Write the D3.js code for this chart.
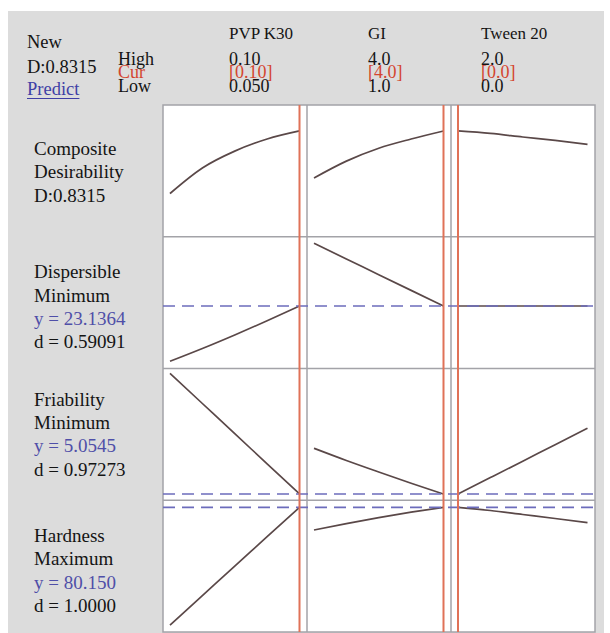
<!DOCTYPE html>
<html>
<head>
<meta charset="utf-8">
<script src="https://cdn.jsdelivr.net/npm/d3@7"></script>
<style>
  body { margin: 0; background: #fff; }
  svg { display: block; }
</style>
</head>
<body>
<svg id="chart" width="610" height="633"></svg>
<script>
// ---- Factors (columns) ----
const factors = ["PVP K30", "GI", "Tween 20"];
const factorLow = [0.05, 1.0, 0.0];
const factorHigh = [0.10, 4.0, 2.0];
const factorCur = [0.10, 4.0, 0.0];
const highLabels = ["0.10", "4.0", "2.0"];
const curLabels = ["[0.10]", "[4.0]", "[0.0]"];
const lowLabels = ["0.050", "1.0", "0.0"];

// ---- Responses (rows) ----
const responseNames = [["Composite", "Desirability"], ["Dispersible", "Minimum"], ["Friability", "Minimum"], ["Hardness", "Maximum"]];
const predicted = [0.8315, 23.1364, 5.0545, 80.150];
const predictedLabels = ["D:0.8315", "y = 23.1364", "y = 5.0545", "y = 80.150"];
const desirabilityLabels = [null, "d = 0.59091", "d = 0.97273", "d = 1.0000"];
const responseDomains = [[0.43, 0.93], [14, 33.26], [4.8, 10.16], [40, 82.42]];

// ---- Factor settings at which each trace is evaluated ----
const pvpGrid = [0.05, 0.0625, 0.075, 0.0875, 0.10];
const giGrid = [1.0, 1.75, 2.5, 3.25, 4.0];
const tweenGrid = [0.0, 0.5, 1.0, 1.5, 2.0];

// ---- Response traces ----
const compositeVsPVP = [0.594, 0.691, 0.755, 0.801, 0.8315];
const compositeVsGI = [0.653, 0.717, 0.766, 0.801, 0.8315];
const compositeVsTween = [0.8315, 0.822, 0.8086, 0.7957, 0.7809];

const dispersibleVsPVP = [15.05, 16.92, 18.90, 20.97, 23.1364];
const dispersibleVsGI = [32.30, 30.01, 27.71, 25.42, 23.1364];
const dispersibleVsTween = [23.1364, 23.1364, 23.1364, 23.1364, 23.1364];

const friabilityVsPVP = [9.965, 8.736, 7.507, 6.283, 5.0545];
const friabilityVsGI = [6.913, 6.417, 5.949, 5.494, 5.0545];
const friabilityVsTween = [5.0545, 5.721, 6.389, 7.060, 7.727];

const hardnessVsPVP = [42.25, 51.72, 61.19, 70.68, 80.15];
const hardnessVsGI = [72.84, 74.90, 76.83, 78.57, 80.15];
const hardnessVsTween = [80.15, 79.12, 77.83, 76.54, 75.19];

const factorGrids = [pvpGrid, giGrid, tweenGrid];
const traces = [
  [compositeVsPVP, compositeVsGI, compositeVsTween],
  [dispersibleVsPVP, dispersibleVsGI, dispersibleVsTween],
  [friabilityVsPVP, friabilityVsGI, friabilityVsTween],
  [hardnessVsPVP, hardnessVsGI, hardnessVsTween]
];

// ---- Layout ----
const svg = d3.select("#chart");
const FONT = "'Liberation Serif', 'Times New Roman', serif";
const gridLeft = 163, gridRight = 595, gridTop = 105, gridBottom = 632;
const colW = (gridRight - gridLeft) / factors.length;
const rowH = (gridBottom - gridTop) / responseNames.length;
const colLeft = j => gridLeft + j * colW;
const rowTop = i => gridTop + i * rowH;

const xScales = factors.map((f, j) =>
  d3.scaleLinear().domain([factorLow[j], factorHigh[j]]).range([colLeft(j) + 7, colLeft(j) + colW - 7.5]));
const yScales = responseDomains.map((dom, i) =>
  d3.scaleLinear().domain(dom).range([rowTop(i) + rowH, rowTop(i)]));

// panel background
svg.append("rect").attr("x", 8).attr("y", 11).attr("width", 596).attr("height", 640).attr("fill", "#dcdcdc");
svg.append("rect").attr("x", gridLeft).attr("y", gridTop)
  .attr("width", gridRight - gridLeft).attr("height", gridBottom - gridTop).attr("fill", "#fff");

// grid lines
const gridG = svg.append("g").attr("stroke", "#a3a3a8").attr("stroke-width", 1.5).attr("fill", "none");
gridG.append("rect").attr("x", gridLeft).attr("y", gridTop)
  .attr("width", gridRight - gridLeft).attr("height", gridBottom - gridTop);
d3.range(1, factors.length).forEach(j =>
  gridG.append("line").attr("x1", colLeft(j)).attr("x2", colLeft(j)).attr("y1", gridTop).attr("y2", gridBottom));
d3.range(1, responseNames.length).forEach(i =>
  gridG.append("line").attr("x1", gridLeft).attr("x2", gridRight).attr("y1", rowTop(i)).attr("y2", rowTop(i)));

// response traces
const traceG = svg.append("g");
traces.forEach((row, i) => {
  row.forEach((vals, j) => {
    const line = d3.line()
      .x((d, k) => xScales[j](factorGrids[j][k]))
      .y(d => yScales[i](d))
      .curve(d3.curveMonotoneX);
    traceG.append("path").attr("d", line(vals))
      .attr("fill", "none").attr("stroke", "#5a4848").attr("stroke-width", 1.7);
  });
});

// predicted response reference lines
predicted.forEach((v, i) => {
  if (i === 0) return;
  svg.append("line")
    .attr("x1", gridLeft).attr("x2", gridRight)
    .attr("y1", yScales[i](v)).attr("y2", yScales[i](v))
    .attr("stroke", "#6c6cbc").attr("stroke-width", 1.7)
    .attr("stroke-dasharray", "12,7");
});

// current factor settings
factorCur.forEach((c, j) => {
  svg.append("line")
    .attr("x1", xScales[j](c)).attr("x2", xScales[j](c))
    .attr("y1", gridTop).attr("y2", gridBottom)
    .attr("stroke", "#e07258").attr("stroke-width", 2);
});

// ---- Text ----
const txt = (x, y, s, color, size) => svg.append("text").attr("x", x).attr("y", y)
  .attr("font-family", FONT).attr("font-size", size || 19).attr("fill", color || "#141414").text(s);

txt(27, 48, "New", null, 18.5);
txt(27, 72.5, "D:0.8315", null, 18.5);
const pred = txt(27, 94.5, "Predict", "#3f3fa6", 18.5);
const pw = pred.node().getComputedTextLength();
svg.append("line").attr("x1", 27).attr("x2", 27 + pw).attr("y1", 98.5).attr("y2", 98.5)
  .attr("stroke", "#3f3fa6").attr("stroke-width", 1.2);

const settingY = [64.5, 78, 91.5];
txt(118, settingY[0], "High", null, 18);
txt(118, settingY[1], "Cur", "#d4452f", 18);
txt(118, settingY[2], "Low", null, 18);

const headerX = [229, 368, 481];
factors.forEach((f, j) => {
  txt(headerX[j], 39, f, null, 17);
  txt(headerX[j], settingY[0], highLabels[j], null, 18);
  txt(headerX[j], settingY[1], curLabels[j], "#d4452f", 18);
  txt(headerX[j], settingY[2], lowLabels[j], null, 18);
});

// row labels
const firstBaseline = [50, 41.5, 37, 41.5];
const lineGap = 23.4;
responseNames.forEach((names, i) => {
  const lines = names.map(s => ({ s, c: "#141414" }));
  lines.push({ s: predictedLabels[i], c: i === 0 ? "#141414" : "#4f4fa8" });
  if (desirabilityLabels[i]) lines.push({ s: desirabilityLabels[i], c: "#141414" });
  lines.forEach((l, k) => txt(34, rowTop(i) + firstBaseline[i] + k * lineGap, l.s, l.c));
});
</script>
</body>
</html>
